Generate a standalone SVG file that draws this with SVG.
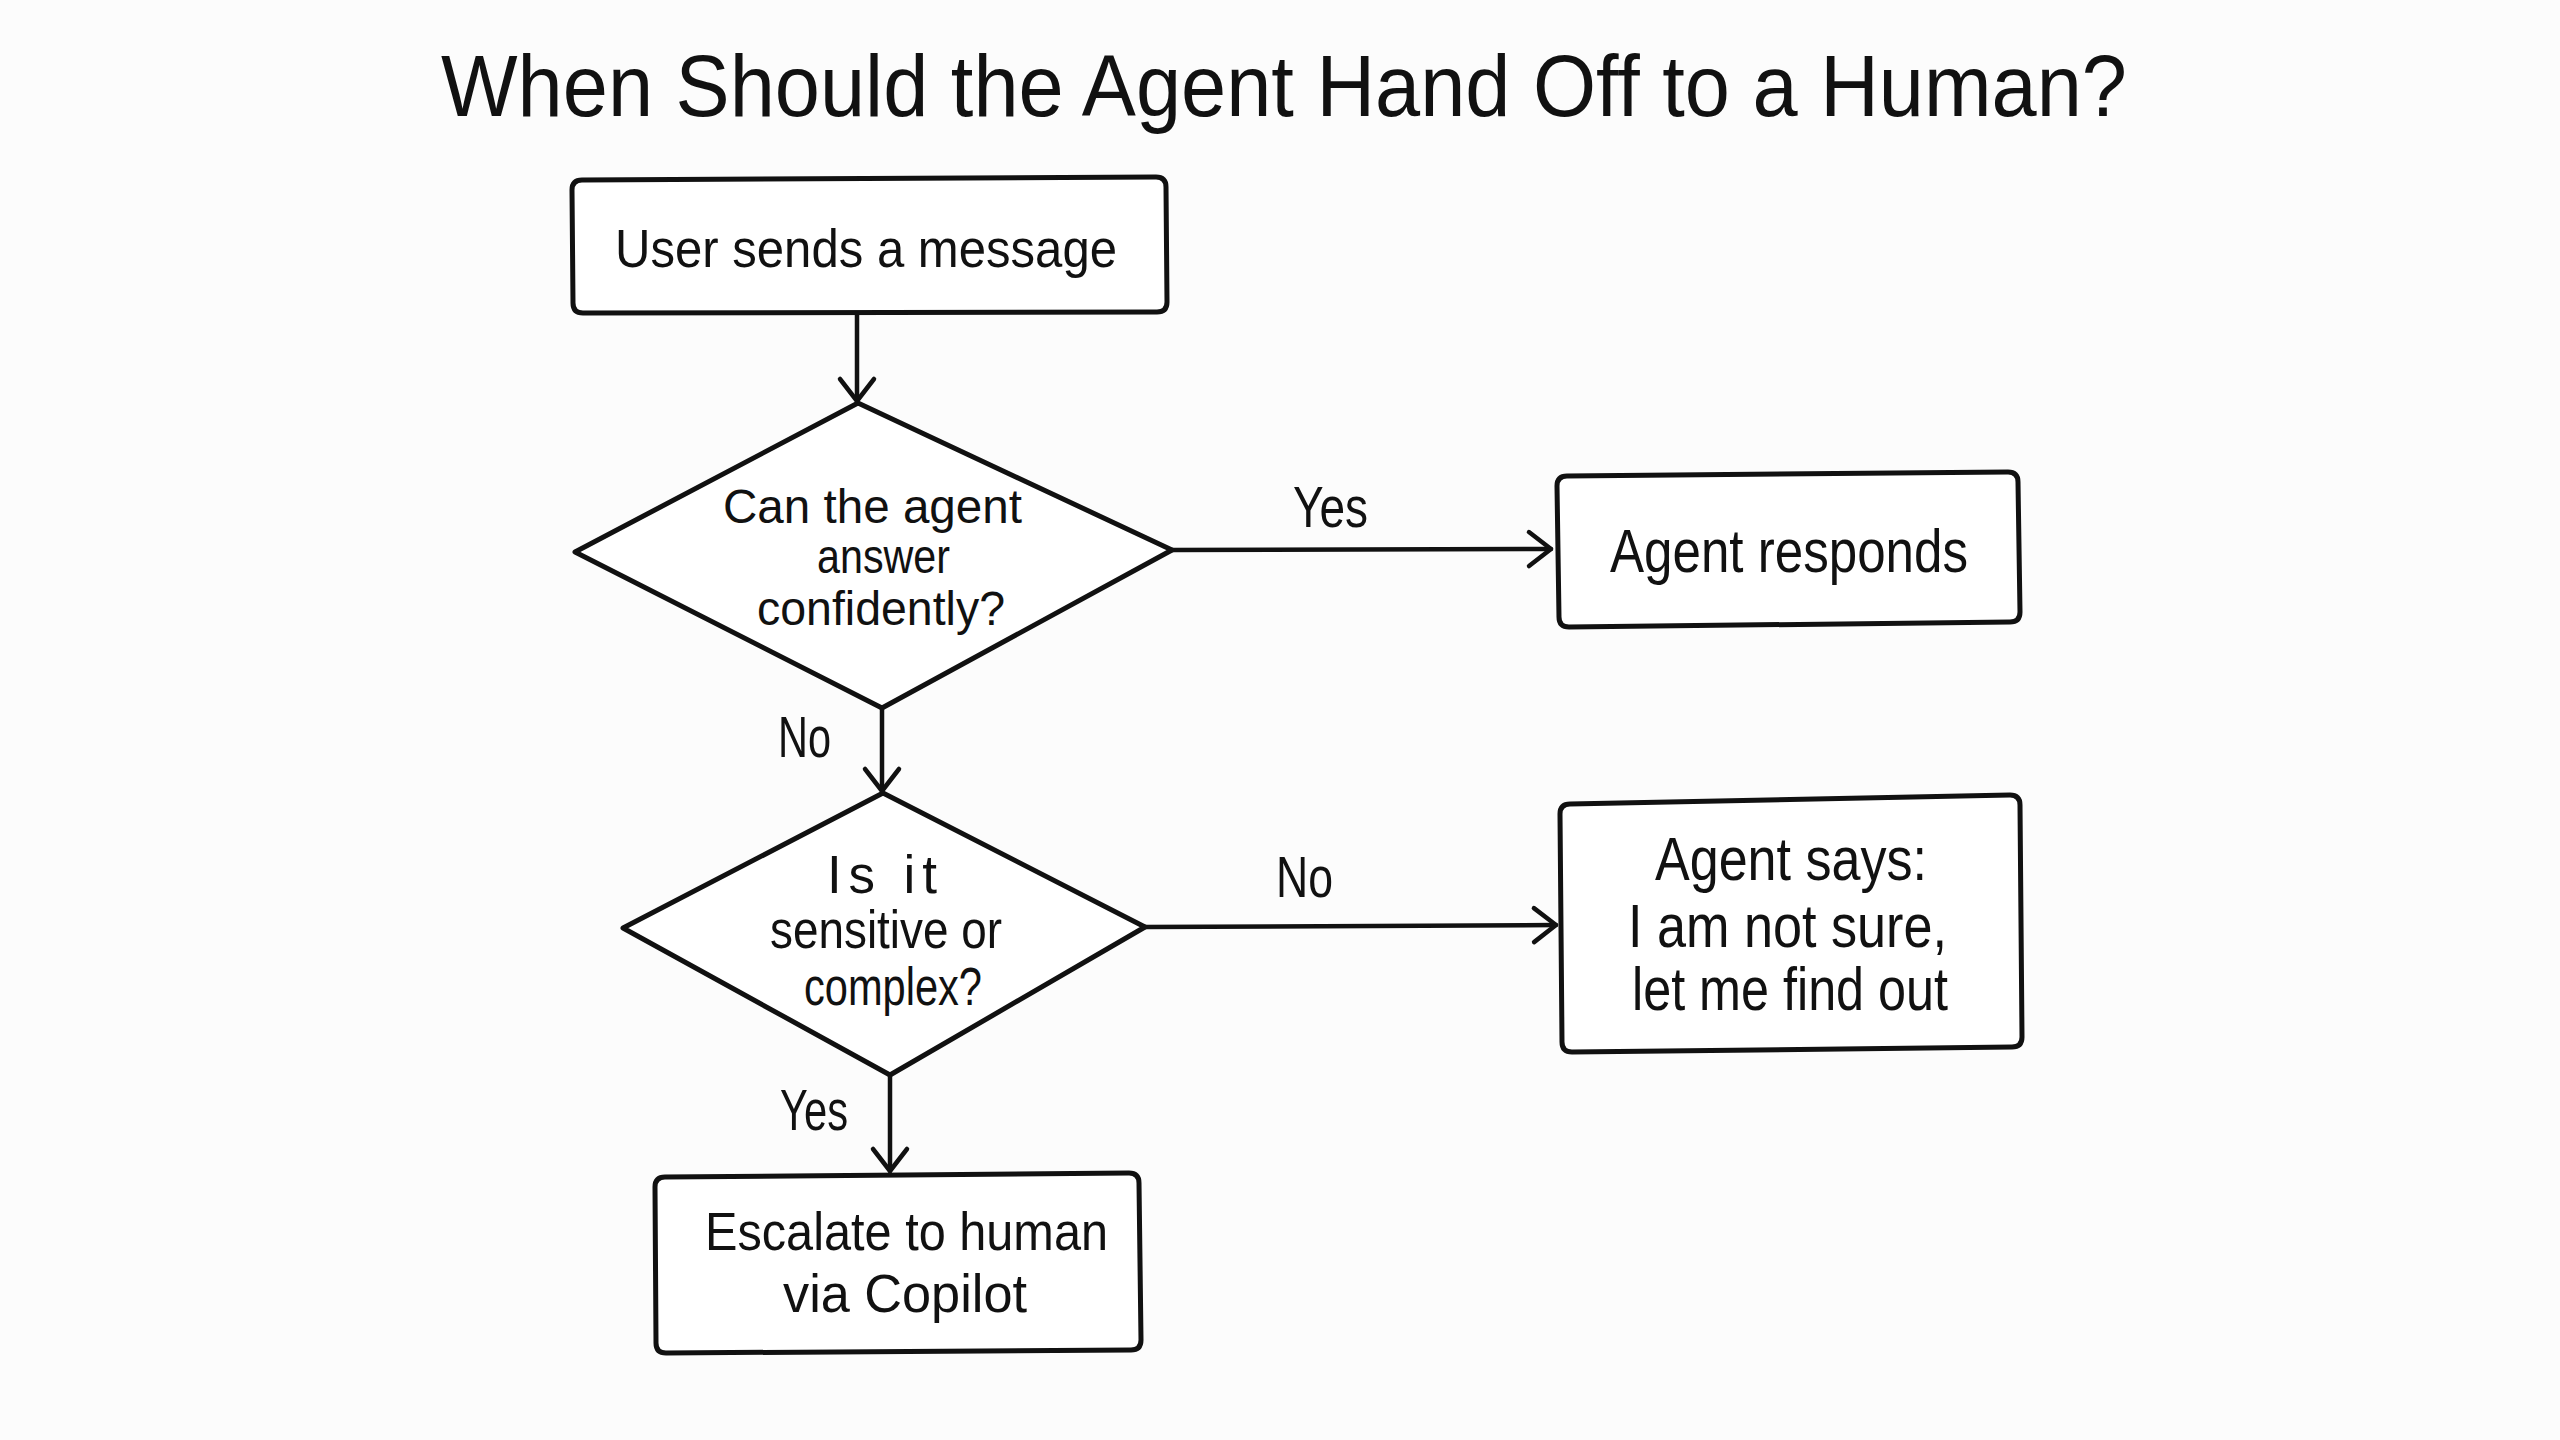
<svg xmlns="http://www.w3.org/2000/svg" width="2560" height="1440" viewBox="0 0 2560 1440">
  <style>
    .shape { fill: #ffffff; stroke: #111111; stroke-width: 5; stroke-linejoin: round; stroke-linecap: round; }
    .conn { fill: none; stroke: #111111; stroke-width: 4.5; stroke-linecap: round; }
    .t { font-family: "Liberation Sans", Arial, sans-serif; fill: #111111; }
    .title { font-size: 88px; }
    .node { font-size: 53px; }
    .dia { font-size: 48px; }
    .big { font-size: 62px; }
    .lbl { font-size: 58px; }
  </style>
  <defs>
    <marker id="arrow" markerUnits="userSpaceOnUse" markerWidth="60" markerHeight="60" refX="0" refY="0" orient="auto" overflow="visible">
      <path d="M -22,-17 L 0,0 L -22,17" fill="none" stroke="#111111" stroke-width="4.5" stroke-linecap="round" stroke-linejoin="round"/>
    </marker>
  </defs>
  <rect x="0" y="0" width="2560" height="1440" fill="#fcfcfc"/>

  <text class="t title" x="441" y="116" textLength="1686" lengthAdjust="spacingAndGlyphs">When Should the Agent Hand Off to a Human?</text>

  <g id="connectors">
    <path class="conn" d="M 857,313 L 857,401" marker-end="url(#arrow)"/>
    <path class="conn" d="M 1172,550 L 1551,549" marker-end="url(#arrow)"/>
    <path class="conn" d="M 882,709 L 882,791" marker-end="url(#arrow)"/>
    <path class="conn" d="M 1145,927 L 1556,925" marker-end="url(#arrow)"/>
    <path class="conn" d="M 890,1076 L 890,1171" marker-end="url(#arrow)"/>
    <text class="t lbl" x="1293" y="527" textLength="75" lengthAdjust="spacingAndGlyphs">Yes</text>
    <text class="t lbl" x="778" y="757" textLength="53" lengthAdjust="spacingAndGlyphs">No</text>
    <text class="t lbl" x="1276" y="897" textLength="57" lengthAdjust="spacingAndGlyphs">No</text>
    <text class="t lbl" x="780" y="1130" textLength="68" lengthAdjust="spacingAndGlyphs">Yes</text>
  </g>

  <g id="node-user-message">
    <path class="shape" d="M 572,190 Q 572,180 582,180 L 1156,177 Q 1166,177 1166,187 L 1167,302 Q 1167,312 1157,312 L 583,313 Q 573,313 573,303 Z"/>
    <text class="t node" x="615" y="267" textLength="502" lengthAdjust="spacingAndGlyphs">User sends a message</text>
  </g>

  <g id="node-can-answer">
    <polygon class="shape" points="858,403 1172,550 882,708 575,552"/>
    <text class="t dia" x="723" y="523" textLength="299" lengthAdjust="spacingAndGlyphs">Can the agent</text>
    <text class="t dia" x="817" y="573" textLength="133" lengthAdjust="spacingAndGlyphs">answer</text>
    <text class="t dia" x="757" y="625" textLength="248" lengthAdjust="spacingAndGlyphs">confidently?</text>
  </g>

  <g id="node-agent-responds">
    <path class="shape" d="M 1557,486 Q 1557,476 1567,476 L 2008,472 Q 2018,472 2018,482 L 2020,612 Q 2020,622 2010,622 L 1569,627 Q 1559,627 1559,617 Z"/>
    <text class="t big" x="1610" y="572" textLength="358" lengthAdjust="spacingAndGlyphs">Agent responds</text>
  </g>

  <g id="node-sensitive">
    <polygon class="shape" points="883,793 1145,927 890,1075 623,928"/>
    <text class="t node" x="827" y="893" textLength="110" lengthAdjust="spacing">Is it</text>
    <text class="t node" x="770" y="948" textLength="232" lengthAdjust="spacingAndGlyphs">sensitive or</text>
    <text class="t node" x="804" y="1005" textLength="178" lengthAdjust="spacingAndGlyphs">complex?</text>
  </g>

  <g id="node-agent-says">
    <path class="shape" d="M 1560,814 Q 1560,804 1570,804 L 2010,795 Q 2020,795 2020,805 L 2022,1037 Q 2022,1047 2012,1047 L 1572,1052 Q 1562,1052 1562,1042 Z"/>
    <text class="t big" x="1655" y="880" textLength="272" lengthAdjust="spacingAndGlyphs">Agent says:</text>
    <text class="t big" x="1628" y="947" textLength="319" lengthAdjust="spacingAndGlyphs">I am not sure,</text>
    <text class="t big" x="1632" y="1010" textLength="316" lengthAdjust="spacingAndGlyphs">let me find out</text>
  </g>

  <g id="node-escalate">
    <path class="shape" d="M 655,1187 Q 655,1177 665,1177 L 1129,1173 Q 1139,1173 1139,1183 L 1141,1340 Q 1141,1350 1131,1350 L 666,1353 Q 656,1353 656,1343 Z"/>
    <text class="t node" x="705" y="1250" textLength="403" lengthAdjust="spacingAndGlyphs">Escalate to human</text>
    <text class="t node" x="783" y="1312" textLength="244" lengthAdjust="spacingAndGlyphs">via Copilot</text>
  </g>
</svg>
